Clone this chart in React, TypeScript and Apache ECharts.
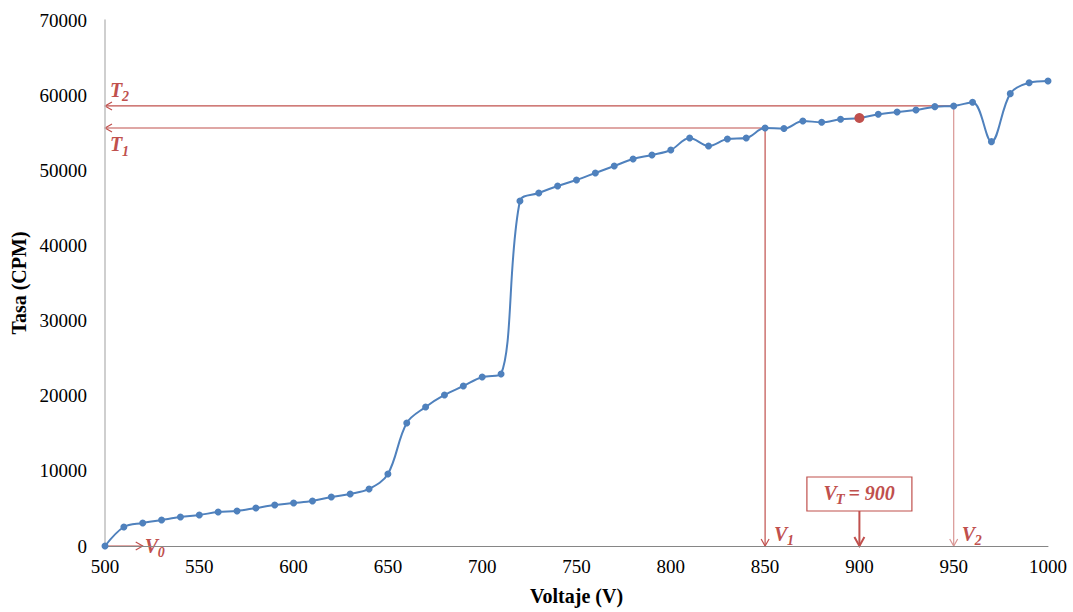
import React, { useEffect, useRef } from "react";
import * as echarts from "echarts";

const voltages = [500, 510, 520, 530, 540, 550, 560, 570, 580, 590, 600, 610, 620, 630, 640, 650, 660, 670, 680, 690, 700, 710, 720, 730, 740, 750, 760, 770, 780, 790, 800, 810, 820, 830, 840, 850, 860, 870, 880, 890, 900, 910, 920, 930, 940, 950, 960, 970, 980, 990, 1000];
const rates = [0, 2530, 3060, 3460, 3860, 4130, 4520, 4660, 5060, 5460, 5720, 5990, 6520, 6920, 7590, 9580, 16370, 18500, 20100, 21290, 22490, 22890, 45910, 46980, 47910, 48710, 49640, 50570, 51500, 52040, 52700, 54300, 53230, 54170, 54300, 55630, 55550, 56560, 56390, 56790, 56960, 57450, 57760, 58020, 58470, 58560, 59050, 53810, 60200, 61660, 61880];

const V0 = 500;
const V0_END = 520;
const V1 = 850;
const V2 = 950;
const VT = 900;

const RED = "#C0504D";
const BLUE = "#4F81BD";
const FONT = "Liberation Serif";

function rateAt(v: number) {
  return rates[voltages.indexOf(v)];
}

function arrowHead(tip: number[], dir: number[], color: string, lw = 1.2, len = 7, half = 4) {
  const n = [-dir[1], dir[0]];
  return {
    type: "polyline",
    silent: true,
    shape: {
      points: [
        [tip[0] - len * dir[0] + half * n[0], tip[1] - len * dir[1] + half * n[1]],
        [tip[0], tip[1]],
        [tip[0] - len * dir[0] - half * n[0], tip[1] - len * dir[1] - half * n[1]],
      ],
    },
    style: { stroke: color, lineWidth: lw, fill: null },
  };
}

function lineEl(a: number[], b: number[], color: string, lw = 1.2) {
  return {
    type: "line",
    silent: true,
    shape: { x1: a[0], y1: a[1], x2: b[0], y2: b[1] },
    style: { stroke: color, lineWidth: lw },
  };
}

function txt(s: string, x: number, y: number, size: number) {
  return {
    type: "text",
    silent: true,
    x,
    y,
    style: {
      text: s,
      fill: RED,
      font: `italic bold ${size}px "${FONT}"`,
      align: "left",
      verticalAlign: "middle",
    },
  };
}

export default function App() {
  const ref = useRef<HTMLDivElement>(null);
  useEffect(() => {
    document.body.style.margin = "0";
    const chart = echarts.init(ref.current!, null, { renderer: "svg" });
    const data = voltages.map((v, i) => {
      if (v === VT) {
        return { value: [v, rates[i]], symbolSize: 10, itemStyle: { color: RED } };
      }
      return { value: [v, rates[i]] };
    });
    chart.setOption({
      animation: false,
      grid: { left: 105, top: 20, right: 25, bottom: 66 },
      xAxis: {
        type: "value",
        min: 500,
        max: 1000,
        interval: 50,
        name: "Voltaje (V)",
        nameLocation: "middle",
        nameGap: 40,
        nameTextStyle: { fontFamily: FONT, fontWeight: "bold", fontSize: 20, color: "#000" },
        axisLine: { show: true, lineStyle: { color: "#868686", width: 1 } },
        axisTick: { show: false },
        splitLine: { show: false },
        axisLabel: { fontFamily: FONT, fontSize: 19, color: "#000", margin: 11, formatter: (v: number) => String(v) },
      },
      yAxis: {
        type: "value",
        min: 0,
        max: 70000,
        interval: 10000,
        name: "Tasa (CPM)",
        nameLocation: "middle",
        nameGap: 75,
        nameTextStyle: { fontFamily: FONT, fontWeight: "bold", fontSize: 20, color: "#000" },
        axisLine: { show: true, lineStyle: { color: "#BFBFBF", width: 1.5 } },
        axisTick: { show: false },
        splitLine: { show: false },
        axisLabel: { fontFamily: FONT, fontSize: 19, color: "#000", margin: 18, formatter: (v: number) => String(v) },
      },
      series: [
        {
          type: "line",
          data,
          smooth: 0.35,
          symbol: "circle",
          symbolSize: 7,
          showSymbol: true,
          lineStyle: { color: BLUE, width: 2 },
          itemStyle: { color: BLUE },
          z: 5,
        },
      ],
    });

    const px = (x: number, y: number) =>
      chart.convertToPixel({ xAxisIndex: 0, yAxisIndex: 0 }, [x, y]) as number[];
    const t1 = rateAt(V1);
    const t2 = rateAt(V2);
    const pT2s = px(V2, t2);
    const pT2e = px(500, t2);
    const pT1s = px(V1, t1);
    const pT1e = px(500, t1);
    const pV1b = px(V1, 0);
    const pV2b = px(V2, 0);
    const pV0s = px(V0, 0);
    const pV0e = px(V0_END, 0);
    const pVT = px(VT, 0);
    const LIGHT = "#D99694";

    const boxW = 105;
    const boxH = 34;
    const boxBottom = pVT[1] - 35;

    const graphic: any[] = [
      lineEl(pT2s, pT2e, RED),
      arrowHead(pT2e, [-1, 0], RED),
      lineEl(pT1s, pT1e, RED),
      arrowHead(pT1e, [-1, 0], RED),
      lineEl(pT1s, pV1b, RED),
      arrowHead(pV1b, [0, 1], RED),
      lineEl(pT2s, pV2b, LIGHT),
      arrowHead(pV2b, [0, 1], LIGHT),
      lineEl(pV0s, pV0e, RED),
      arrowHead(pV0e, [1, 0], RED),
      {
        type: "rect",
        silent: true,
        shape: { x: pVT[0] - boxW / 2, y: boxBottom - boxH, width: boxW, height: boxH },
        style: { stroke: RED, lineWidth: 1.2, fill: "#fff" },
      },
      lineEl([pVT[0], boxBottom], pVT, RED, 2),
      arrowHead(pVT, [0, 1], RED, 2, 9, 5),
      // T2
      txt("T", pT2e[0] + 5, pT2s[1] - 15.5, 20),
      txt("2", pT2e[0] + 17, pT2s[1] - 9.5, 14),
      // T1
      txt("T", pT1e[0] + 5, pT1s[1] + 16.5, 20),
      txt("1", pT1e[0] + 17, pT1s[1] + 24, 14),
      // V0
      txt("V", pV0e[0] + 2, pV0s[1] - 0.5, 20),
      txt("0", pV0e[0] + 15, pV0s[1] + 6.5, 14),
      // V1
      txt("V", pV1b[0] + 9, pV1b[1] - 12, 20),
      txt("1", pV1b[0] + 22, pV1b[1] - 6, 14),
      // V2
      txt("V", pV2b[0] + 8, pV2b[1] - 12, 20),
      txt("2", pV2b[0] + 21, pV2b[1] - 6, 14),
      // VT
      txt("V", pVT[0] - 36, boxBottom - 18, 20),
      txt("T", pVT[0] - 24, boxBottom - 12, 15),
      txt("= " + VT, pVT[0] - 11, boxBottom - 18, 20),
    ];
    chart.setOption({ graphic });

    return () => chart.dispose();
  }, []);
  return <div ref={ref} style={{ width: 1073, height: 612 }} />;
}
